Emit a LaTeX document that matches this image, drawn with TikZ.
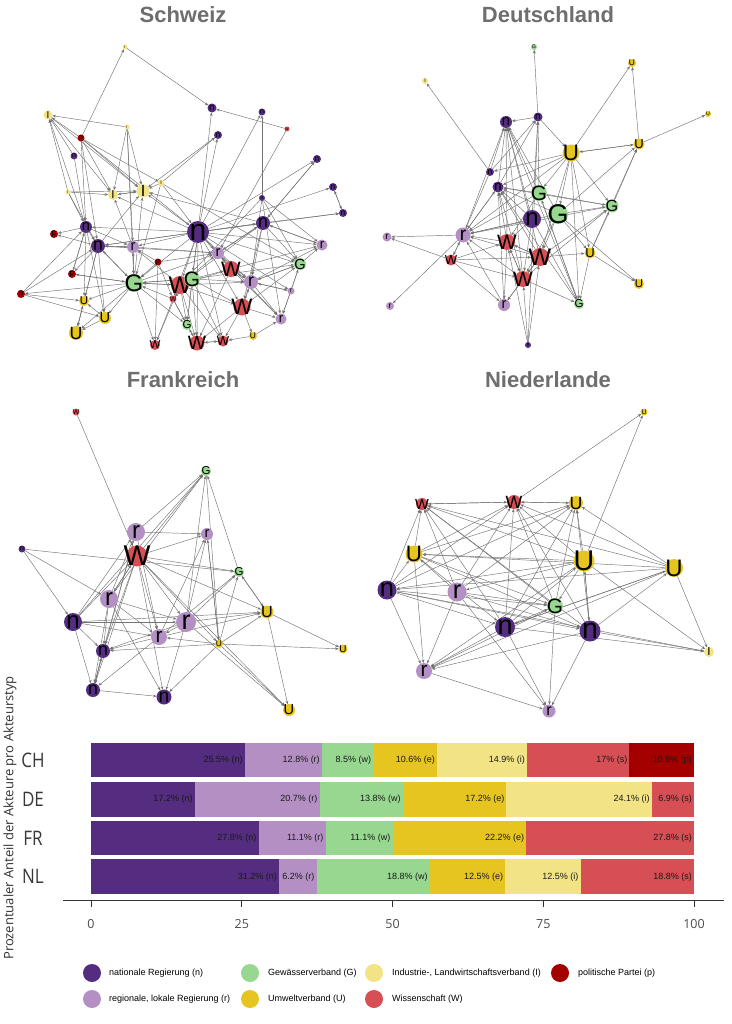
\documentclass[tikz,border=0pt]{standalone}
\usepackage{fontspec}
\setmainfont{Liberation Sans}
\newfontfamily\osans{Open Sans}
\usetikzlibrary{arrows.meta}
\definecolor{cN}{HTML}{542D80}
\definecolor{cR}{HTML}{B48FC4}
\definecolor{cG}{HTML}{98D78F}
\definecolor{cU}{HTML}{E6C521}
\definecolor{cI}{HTML}{F2E384}
\definecolor{cW}{HTML}{D64F55}
\definecolor{cP}{HTML}{A50000}
\definecolor{ttl}{HTML}{6E6E6E}
\pgfdeclarelayer{bg}
\pgfdeclarelayer{edges}
\pgfsetlayers{bg,edges,main}
\tikzset{
  actor/.style={circle, inner sep=0pt, outer sep=0pt, draw=none},
  edge/.style={draw=black!55, line width=0.45pt, -{Stealth[length=3.4pt,width=2.8pt]}},
  ttlstyle/.style={font=\fontsize{22}{24}\selectfont\bfseries, text=ttl},
  barlbl/.style={font=\fontsize{9}{10}\selectfont, text=black!90, inner sep=0pt, anchor=east},
  ctry/.style={font=\osans\fontsize{20}{22}\selectfont, text=black!78},
  ticklbl/.style={font=\osans\fontsize{12.5}{14}\selectfont, text=black!70},
  legtxt/.style={font=\fontsize{9}{10}\selectfont, anchor=west, inner sep=0pt},
  legdot/.style={circle, inner sep=0pt, minimum size=18pt},
}
\newcommand\actors[1]{\foreach \id/\x/\y/\r/\c/\t in {#1}{%
  \pgfmathsetmacro\fsz{max(3.1*\r-4,1.5)}%
  \node[actor, fill=\c, minimum size={2*\r*1pt}] (\id) at (\x,\y) {};
  \node[inner sep=0pt, font=\fontsize{\fsz}{\fsz}\selectfont] (\id-l) at (\id) {\t};}}
\newcommand\links[1]{\foreach \a/\b in {#1}{\draw[edge] (\a) -- (\b);}}
\begin{document}
\begin{tikzpicture}[x=1pt,y=-1pt]
\begin{pgfonlayer}{bg}
\fill[white] (0,0) rectangle (731,1024);
\end{pgfonlayer}
\useasboundingbox (0,0) rectangle (731,1024);

% titles
\node[ttlstyle] (tCH) at (183,15) {Schweiz};
\node[ttlstyle] (tDE) at (548,15) {Deutschland};
\node[ttlstyle] (tFR) at (183,380) {Frankreich};
\node[ttlstyle] (tNL) at (548,380) {Niederlande};

% ---------------- Schweiz ----------------
\actors{c1/125/47/2.5/cI/I, c2/212/108/4.5/cN/n, c3/262/112/3.5/cN/n, c4/287/129/2.5/cW/W,
 c5/218/135/4/cN/n, c6/48/115/4.5/cI/I, c7/127/127/2.5/cI/I, c8/81/138/3.5/cP/p,
 c9/74/156/3.5/cN/n, c10/317/159/4/cN/n, c11/161/183/3/cI/I, c12/68/192/2.5/cI/I,
 c13/113/195/5/cI/I, c14/143/191/6.5/cI/I, c15/333/187/4/cN/n, c16/262/198/3/cN/n,
 c17/343/213/4/cN/n, c18/198/232/11/cN/n, c19/263/223/7/cN/n, c20/86/227/6/cN/n,
 c21/54/234/4/cP/p, c22/98/246/7/cN/n, c23/133/247/6/cR/r, c24/218/253/6/cR/r,
 c25/322/245/5.5/cR/r, c26/158/262/3.5/cP/p, c27/231/269/8/cW/W, c28/300/264/6/cG/G,
 c29/72/274/4/cP/p, c30/134/283/9/cG/G, c31/180/285/9/cW/W, c32/192/279/8/cG/G,
 c33/251/282/7/cR/r, c34/291/291/3.5/cR/r, c35/21/294/4/cP/p, c36/173/299/3.5/cW/W,
 c37/84/301/5/cU/U, c38/242/307/8.5/cW/W, c39/105/318/6/cU/U, c40/281/319/5.5/cR/r,
 c41/187/325/5/cG/G, c42/76/333/7/cU/U, c43/155/345/5/cW/W, c44/197/343/7.5/cW/W,
 c45/223/341/5.5/cW/W, c46/253/336/4/cU/U}

% ---------------- Deutschland ----------------
\actors{d1/534/47/3/cG/G, d2/632/63/4/cU/U, d3/425/81/3/cI/I, d4/708/114/3/cU/U,
 d5/506/122/6/cN/n, d6/538/117/4.5/cN/n, d7/571/153/8.5/cU/U, d8/639/144/5.5/cU/U,
 d9/490/172/4/cN/n, d10/498/187/5.5/cN/n, d11/539/193/8/cG/G, d12/558/214/10/cG/G,
 d13/532/219/9/cN/n, d14/612/206/6.5/cG/G, d15/387/237/4.5/cR/r, d16/463/235/7.5/cR/r,
 d17/507/242/8/cW/W, d18/451/260/5.5/cW/W, d19/540/257/9/cW/W, d20/590/253/5.5/cU/U,
 d21/523/279/8/cW/W, d22/639/284/5/cU/U, d23/390/306/4/cR/r, d24/504/305/6/cR/r,
 d25/579/304/5/cG/G, d26/528/345/3/cN/n}

% ---------------- Frankreich ----------------
\actors{f1/76/412/3.5/cW/W, f2/206/471/5/cG/G, f3/136/532/9/cR/r, f4/207/534/6/cR/r,
 f5/22/549/3.5/cN/n, f6/137/556/10.5/cW/W, f7/239/572/5/cG/G, f8/109/599/9/cR/r,
 f9/73/622/9/cN/n, f10/186/622/10/cR/r, f11/267/612/6.5/cU/U, f12/159/637/8/cR/r,
 f13/219/644/4/cU/U, f14/103/651/7/cN/n, f15/343/649/4.5/cU/U, f16/93/690/7/cN/n,
 f17/164/697/7.5/cN/n, f18/289/710/6/cU/U}

% ---------------- Niederlande ----------------
\actors{l1/644/412/3.5/cU/U, l2/422/504/6/cW/W, l3/514/502/7/cW/W, l4/576/503/7/cU/U,
 l5/414/554/8.5/cU/U, l6/584/561/10.5/cU/U, l7/674/568/9/cU/U, l8/387/590/9.5/cN/n,
 l9/457/592/9.5/cR/r, l10/555/606/8/cG/G, l11/505/627/10/cN/n, l12/590/631/10.5/cN/n,
 l13/709/652/5/cI/I, l14/424/671/8/cR/r, l15/549/711/6.5/cR/r}

\begin{pgfonlayer}{edges}
\links{c1/c2, c8/c1, c4/c2, c4/c24, c7/c6, c7/c13, c7/c14, c7/c30, c7/c23,
 c8/c6, c8/c14, c8/c13, c8/c20, c8/c22, c8/c11, c8/c18,
 c12/c13, c12/c14, c12/c20, c12/c6, c12/c22,
 c11/c14, c11/c5, c11/c18, c11/c30, c11/c28,
 c18/c2, c18/c5, c18/c3, c18/c10, c18/c15, c18/c17, c18/c19, c18/c14, c18/c13, c18/c20,
 c18/c22, c18/c23, c18/c24, c18/c25, c18/c27, c18/c28, c18/c30, c18/c31, c18/c32, c18/c33,
 c18/c38, c18/c40, c18/c41, c18/c44, c18/c45, c18/c36, c18/c34,
 c19/c17, c19/c10, c19/c25, c19/c28, c19/c33, c19/c38, c19/c31, c19/c22, c19/c24, c19/c14,
 c16/c3, c16/c28, c16/c33, c16/c40, c16/c31, c16/c25,
 c15/c17, c17/c15,
 c20/c21, c20/c22, c20/c23, c20/c37, c20/c29, c20/c39, c20/c6,
 c22/c21, c22/c23, c22/c30, c22/c37, c22/c39, c22/c42, c22/c29, c22/c24, c22/c14,
 c23/c22, c23/c30, c23/c24, c23/c13,
 c30/c22, c30/c23, c30/c29, c30/c37, c30/c39, c30/c42, c30/c31, c30/c32, c30/c43, c30/c35,
 c30/c24, c30/c14, c30/c41,
 c35/c20, c35/c37, c35/c39, c35/c22,
 c31/c30, c31/c27, c31/c33, c31/c38, c31/c41, c31/c44, c31/c24, c31/c23, c31/c43, c31/c45,
 c32/c27, c32/c33, c32/c38, c32/c41, c32/c44, c32/c45, c32/c30, c32/c28, c32/c36,
 c27/c33, c27/c24, c27/c40, c27/c25, c27/c44,
 c33/c28, c33/c25, c33/c40, c33/c34, c33/c38, c33/c27,
 c38/c40, c38/c33, c38/c44, c38/c45, c38/c46, c38/c28,
 c34/c40, c34/c28, c34/c33, c28/c25, c28/c33, c28/c40,
 c26/c24, c26/c23, c26/c30, c26/c36, c26/c43,
 c36/c41, c36/c43, c36/c44, c36/c30,
 c37/c42, c39/c42, c39/c37, c42/c37,
 c44/c45, c45/c44, c46/c45, c46/c40, c44/c41,
 c29/c30, c29/c20, c9/c20, c9/c6,
 c5/c14, c10/c19, c24/c33, c24/c19, c25/c19,
 c13/c14, c14/c13, c6/c14, c6/c13}
\links{d6/d1, d6/d5, d7/d2, d8/d2, d8/d4, d7/d8, d8/d7, d6/d7, d9/d3, d9/d5, d9/d6,
 d9/d16, d16/d23, d10/d5, d10/d6, d11/d5, d12/d5, d13/d5, d17/d5, d19/d5, d21/d5,
 d7/d9, d7/d10, d7/d11, d7/d12, d7/d14, d7/d16, d7/d20, d7/d25, d7/d19,
 d11/d10, d11/d14, d11/d16, d11/d17, d11/d6, d11/d25,
 d12/d10, d12/d14, d12/d8, d12/d16, d12/d21, d12/d22, d12/d19, d12/d20,
 d13/d10, d13/d16, d13/d17, d13/d21, d13/d25, d13/d6,
 d14/d8, d14/d16, d14/d10,
 d16/d15, d16/d18, d16/d10, d16/d5,
 d18/d15, d18/d16, d18/d17, d18/d24, d18/d21, d18/d19,
 d17/d16, d17/d24, d17/d21, d17/d10, d17/d19,
 d19/d17, d19/d20, d19/d21, d19/d24, d19/d16, d19/d14, d19/d10,
 d20/d14, d20/d8, d20/d22, d20/d25,
 d21/d14, d21/d24, d21/d25, d21/d10, d21/d16, d21/d17,
 d26/d21, d26/d19, d26/d17, d26/d6,
 d24/d10, d24/d16, d25/d10, d25/d5, d25/d11, d10/d16}
\links{f1/f6, f3/f2, f6/f2, f9/f3, f8/f2, f9/f2,
 f5/f7, f5/f8, f5/f9,
 f6/f4, f3/f4, f6/f7, f6/f11, f6/f10, f6/f12, f6/f14, f6/f16, f6/f17, f6/f13,
 f8/f3, f9/f6, f8/f6,
 f10/f2, f10/f4, f10/f7, f10/f11, f10/f12, f10/f14, f10/f17, f10/f18,
 f12/f4, f12/f7, f12/f11, f12/f16, f12/f14,
 f13/f4, f13/f7, f13/f11, f13/f12, f13/f14, f13/f15, f13/f18, f13/f17,
 f7/f2, f7/f11, f11/f7, f11/f15, f11/f18,
 f9/f14, f9/f16, f9/f12, f9/f11, f9/f10,
 f8/f14, f8/f16, f8/f17, f8/f10, f8/f12,
 f16/f17, f14/f16, f16/f14,
 f3/f14, f3/f16, f3/f12, f6/f8, f4/f13, f2/f13, f6/f18}
\links{l3/l1, l6/l1, l3/l2, l2/l3, l3/l4, l4/l3,
 l5/l2, l5/l3, l5/l4, l5/l10, l5/l12, l5/l11, l5/l14,
 l6/l2, l6/l3, l6/l4, l6/l5, l6/l8, l6/l10, l6/l12, l6/l13, l6/l14, l6/l9,
 l7/l2, l7/l3, l7/l4, l7/l5, l7/l8, l7/l11, l7/l13, l7/l14,
 l8/l2, l8/l3, l8/l4, l8/l5, l8/l10, l8/l12, l8/l13, l8/l14, l8/l11,
 l9/l2, l9/l3, l9/l4, l9/l10, l9/l12, l9/l14, l9/l15, l9/l5,
 l10/l2, l10/l3, l10/l4, l10/l14, l10/l15,
 l11/l2, l11/l3, l11/l4, l11/l6, l11/l7, l11/l10, l11/l14, l11/l15, l11/l13,
 l12/l3, l12/l4, l12/l6, l12/l7, l12/l14, l12/l15, l12/l13, l12/l2, l14/l15}
\end{pgfonlayer}

% ---------------- bar chart ----------------
\foreach \a/\b/\c/\t [count=\i] in {0/25.5/cN/25.5\% (n), 25.5/38.3/cR/12.8\% (r), 38.3/46.8/cG/8.5\% (w),
  46.8/57.4/cU/10.6\% (e), 57.4/72.3/cI/14.9\% (i), 72.3/89.3/cW/17\% (s), 89.3/100/cP/10.6\% (p)}{
  \fill[\c] ({91+6.03*\a},742.7) rectangle ({91+6.03*\b},777.3);
  \node[barlbl] (bCH\i) at ({91+6.03*\b-2},760) {\t};}
\foreach \a/\b/\c/\t [count=\i] in {0/17.2/cN/17.2\% (n), 17.2/37.9/cR/20.7\% (r), 37.9/51.7/cG/13.8\% (w),
  51.7/68.9/cU/17.2\% (e), 68.9/93.0/cI/24.1\% (i), 93.0/100/cW/6.9\% (s)}{
  \fill[\c] ({91+6.03*\a},781.7) rectangle ({91+6.03*\b},816.7);
  \node[barlbl] (bDE\i) at ({91+6.03*\b-2},799.2) {\t};}
\foreach \a/\b/\c/\t [count=\i] in {0/27.8/cN/27.8\% (n), 27.8/38.9/cR/11.1\% (r), 38.9/50.0/cG/11.1\% (w),
  50.0/72.2/cU/22.2\% (e), 72.2/100/cW/27.8\% (s)}{
  \fill[\c] ({91+6.03*\a},820.7) rectangle ({91+6.03*\b},855.3);
  \node[barlbl] (bFR\i) at ({91+6.03*\b-2},838) {\t};}
\foreach \a/\b/\c/\t [count=\i] in {0/31.2/cN/31.2\% (n), 31.2/37.4/cR/6.2\% (r), 37.4/56.2/cG/18.8\% (w),
  56.2/68.7/cU/12.5\% (e), 68.7/81.2/cI/12.5\% (i), 81.2/100/cW/18.8\% (s)}{
  \fill[\c] ({91+6.03*\a},859.3) rectangle ({91+6.03*\b},894.3);
  \node[barlbl] (bNL\i) at ({91+6.03*\b-2},876.8) {\t};}

\node[ctry] (yCH) at (33,760) {\scalebox{0.85}[1]{CH}};
\node[ctry] (yDE) at (33,799.2) {\scalebox{0.85}[1]{DE}};
\node[ctry] (yFR) at (33,838) {\scalebox{0.85}[1]{FR}};
\node[ctry] (yNL) at (33,876.8) {\scalebox{0.85}[1]{NL}};

\coordinate (axL) at (63,900);
\coordinate (axR) at (724,900);
\draw[black!80, line width=0.9pt] (axL) -- (axR);
\foreach \v [count=\i] in {0,25,50,75,100}{
  \draw[black!80, line width=0.9pt] ({91+6.03*\v},900) -- ({91+6.03*\v},906.5);
  \node[ticklbl] (tk\i) at ({91+6.03*\v},924) {\v};}

\node[font=\osans\fontsize{13}{14}\selectfont, text=black!80, rotate=90] (ytitle) at (10,818)
  {Prozentualer Anteil der Akteure pro Akteurstyp};

% ---------------- legend ----------------
\node[legdot, fill=cN] (lg1) at (92,973) {};
\node[legtxt] (lt1) at (109,973) {nationale Regierung (n)};
\node[legdot, fill=cG] (lg2) at (250,973) {};
\node[legtxt] (lt2) at (268,973) {Gewässerverband (G)};
\node[legdot, fill=cI] (lg3) at (374,973) {};
\node[legtxt] (lt3) at (392,973) {Industrie-, Landwirtschaftsverband (I)};
\node[legdot, fill=cP] (lg4) at (560,973) {};
\node[legtxt] (lt4) at (578,973) {politische Partei (p)};
\node[legdot, fill=cR] (lg5) at (92,999) {};
\node[legtxt] (lt5) at (109,999) {regionale, lokale Regierung (r)};
\node[legdot, fill=cU] (lg6) at (250,999) {};
\node[legtxt] (lt6) at (268,999) {Umweltverband (U)};
\node[legdot, fill=cW] (lg7) at (374,999) {};
\node[legtxt] (lt7) at (392,999) {Wissenschaft (W)};
\end{tikzpicture}
\end{document}
